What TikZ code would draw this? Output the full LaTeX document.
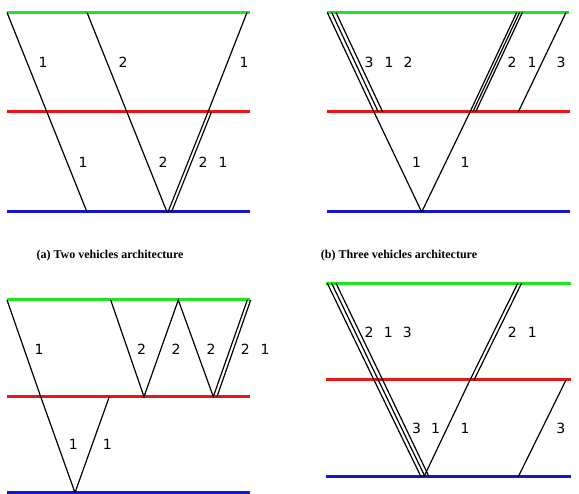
\documentclass[tikz,border=0pt]{standalone}
\usepackage{fontspec}
\setmainfont{Liberation Serif}
\newfontfamily\labfont{DejaVu Sans}
\definecolor{lgreen}{RGB}{30,230,30}
\definecolor{lred}{RGB}{235,20,20}
\definecolor{lblue}{RGB}{20,20,210}
\begin{document}
\begin{tikzpicture}[x=1pt,y=-1pt,
  road/.style={line width=3pt},
  veh/.style={black,line width=1.2pt},
  lab/.style={font=\labfont\fontsize{14}{14}\selectfont,inner sep=0pt},
  captxt/.style={font=\bfseries\fontsize{12}{14}\selectfont,inner sep=0pt}]
\useasboundingbox (0,0) rectangle (579,494);
% ---------- (a) ----------
\draw[road,lgreen] (7,12.5) -- (250,12.5);
\draw[road,lred] (7,112) -- (250,112);
\draw[road,lblue] (7,212) -- (250,212);
\draw[veh] (7,12.5) -- (87,212);
\draw[veh] (87,12.5) -- (167,212);
\draw[veh] (247,12.5) -- (208,112);
\draw[veh] (208,112) -- (168,212);
\draw[veh] (211.5,112) -- (171.5,212);
\node[lab] at (43,62) {1};
\node[lab] at (123,62) {2};
\node[lab] at (244,62) {1};
\node[lab] at (83,162) {1};
\node[lab] at (163,162) {2};
\node[lab] at (203,162) {2};
\node[lab] at (223,162) {1};
\node[captxt] at (110,256) {(a) Two vehicles architecture};
% ---------- (b) ----------
\draw[road,lgreen] (327,12.5) -- (569,12.5);
\draw[road,lred] (327,112) -- (570,112);
\draw[road,lblue] (327,212) -- (570,212);
\draw[veh] (327.3,12.5) -- (374,112);
\draw[veh] (331.7,12.5) -- (378.3,112);
\draw[veh] (336,12.5) -- (382.7,112);
\draw[veh] (374,112) -- (421.7,212);
\draw[veh] (516.7,12.5) -- (470,112);
\draw[veh] (519.5,12.5) -- (472.8,112);
\draw[veh] (522.3,12.5) -- (475.6,112);
\draw[veh] (470,112) -- (421.7,212);
\draw[veh] (566,12.5) -- (518.3,112);
\node[lab] at (369,62) {3};
\node[lab] at (389,62) {1};
\node[lab] at (408,62) {2};
\node[lab] at (512,62) {2};
\node[lab] at (532,62) {1};
\node[lab] at (561,62) {3};
\node[lab] at (416.7,162) {1};
\node[lab] at (465,162) {1};
\node[captxt] at (399,256) {(b) Three vehicles architecture};
% ---------- (c) ----------
\draw[road,lgreen] (7,300) -- (250,300);
\draw[road,lred] (7,396.7) -- (250,396.7);
\draw[road,lblue] (7,492.7) -- (250,492.7);
\draw[veh] (7,300) -- (40.7,396.7) -- (75,492.7) -- (109.3,396.7);
\draw[veh] (110.7,300) -- (144,396.7) -- (178.3,300) -- (213.3,396.7) -- (247.3,300);
\draw[veh] (217,396.7) -- (250.7,300);
\node[lab] at (39,349) {1};
\node[lab] at (141.7,349) {2};
\node[lab] at (176,349) {2};
\node[lab] at (211,349) {2};
\node[lab] at (245.3,349) {2};
\node[lab] at (265,349) {1};
\node[lab] at (73.3,444.3) {1};
\node[lab] at (107.3,444.3) {1};
% ---------- (d) ----------
\draw[road,lgreen] (326,283.3) -- (570.7,283.3);
\draw[road,lred] (326,380) -- (570.7,380);
\draw[road,lblue] (326,476.7) -- (570.7,476.7);
\draw[veh] (327.3,283.3) -- (374,380) -- (421,476.7);
\draw[veh] (331.7,283.3) -- (378.3,380) -- (425,476.7);
\draw[veh] (336,283.3) -- (382.7,380) -- (429,476.7);
\draw[veh] (517.7,283.3) -- (470,380) -- (424,476.7);
\draw[veh] (521.5,283.3) -- (474,380);
\draw[veh] (566,380) -- (518.3,476.7);
\node[lab] at (369,332.3) {2};
\node[lab] at (388.3,332.3) {1};
\node[lab] at (407.3,332.3) {3};
\node[lab] at (512.3,332.3) {2};
\node[lab] at (532.3,332.3) {1};
\node[lab] at (416.7,428.3) {3};
\node[lab] at (435.7,428.3) {1};
\node[lab] at (465,428.3) {1};
\node[lab] at (560.7,428.3) {3};
\end{tikzpicture}
\end{document}
